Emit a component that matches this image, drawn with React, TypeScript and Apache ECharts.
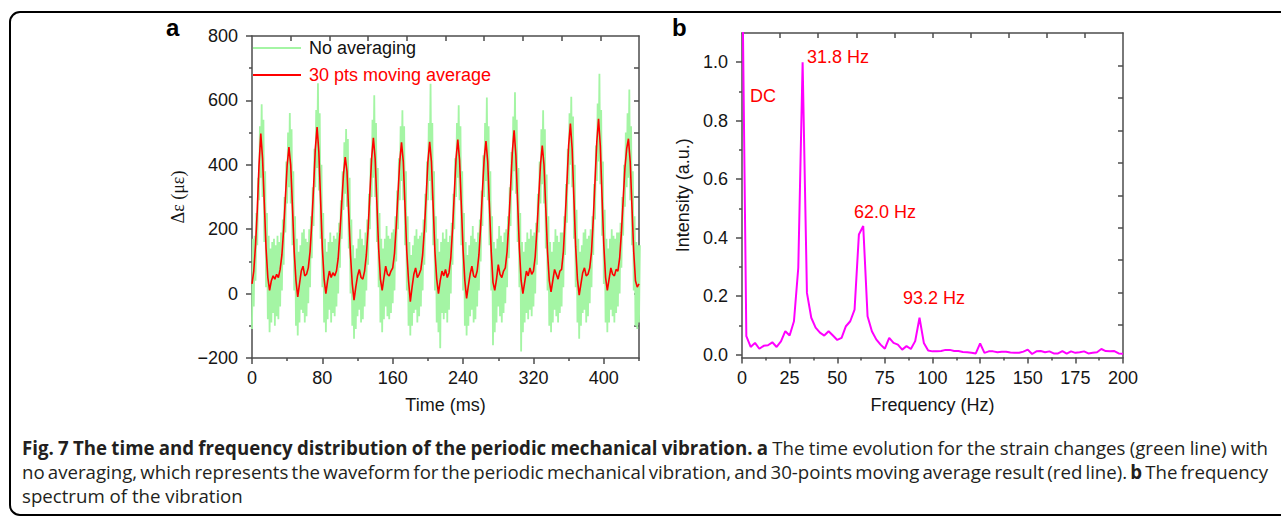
import React, { useEffect, useRef } from 'react';
import * as echarts from 'echarts';

// ---------- Panel a: strain vs time (2 ms grid, 0..440 ms) ----------
const TIME_STEP_MS = 2;
const RED_AVG = [
  30, 70, 150, 260, 400, 497, 420, 280, 140, 50, 10, 40, 55, 45, 60, 50, 75,
  120, 200, 300, 400, 455, 400, 270, 130, 40, -10, 30, 70, 85, 55, 60, 80,
  130, 220, 330, 450, 517, 440, 290, 140, 45, 0, 40, 70, 50, 65, 55, 70,
  110, 190, 280, 370, 424, 380, 250, 120, 30, -20, 20, 55, 75, 50, 45, 70,
  120, 200, 310, 420, 484, 420, 280, 140, 45, 10, 50, 85, 60, 55, 70, 80,
  125, 210, 310, 410, 470, 410, 270, 130, 40, -25, 20, 60, 80, 50, 60, 75,
  120, 200, 300, 410, 471, 410, 270, 130, 45, 0, 40, 70, 55, 75, 50, 65,
  110, 200, 310, 420, 478, 415, 275, 135, 40, -15, 25, 60, 85, 55, 50, 70,
  120, 210, 320, 420, 474, 410, 270, 130, 35, 10, 45, 90, 60, 50, 70, 80,
  130, 220, 330, 440, 507, 430, 285, 140, 40, 0, 35, 70, 55, 80, 60, 70,
  115, 200, 300, 400, 460, 400, 265, 130, 40, 5, 40, 75, 60, 45, 70, 75,
  130, 230, 340, 460, 528, 450, 295, 145, 45, -5, 30, 65, 80, 55, 60, 80,
  130, 230, 350, 470, 543, 460, 300, 150, 50, 10, 45, 80, 60, 55, 75, 70, 110,
  190, 290, 390, 450, 481, 410, 270, 130, 40, 20, 30,
];
const GREEN_HI = [
  170, 180, 250, 360, 520, 588, 540, 380, 250, 180, 140, 160, 170, 150, 180, 160, 190,
  230, 300, 410, 500, 561, 510, 380, 240, 170, 130, 150, 190, 200, 170, 160, 200,
  240, 330, 450, 570, 653, 560, 400, 250, 170, 130, 160, 190, 160, 180, 170, 190,
  220, 290, 380, 470, 511, 480, 360, 230, 150, 110, 140, 170, 200, 170, 150, 190,
  230, 310, 420, 540, 616, 530, 390, 250, 170, 140, 170, 210, 180, 170, 190, 200,
  240, 320, 420, 520, 569, 520, 380, 240, 160, 120, 150, 180, 200, 170, 180, 190,
  230, 310, 410, 530, 652, 530, 380, 240, 170, 130, 160, 190, 170, 200, 160, 180,
  220, 310, 420, 530, 585, 520, 380, 250, 160, 120, 150, 180, 210, 170, 160, 190,
  230, 320, 430, 530, 609, 520, 380, 240, 160, 140, 170, 210, 180, 160, 190, 200,
  240, 330, 440, 550, 625, 540, 390, 250, 160, 130, 160, 190, 170, 200, 180, 190,
  220, 310, 410, 510, 569, 510, 370, 240, 160, 130, 160, 200, 180, 160, 190, 190,
  240, 340, 450, 560, 611, 550, 400, 260, 170, 130, 150, 190, 200, 170, 180, 200,
  240, 340, 460, 590, 683, 570, 410, 260, 170, 140, 170, 200, 180, 170, 190, 190, 220,
  300, 400, 500, 560, 634, 520, 380, 240, 160, 150, 150,
];
const GREEN_LO = [
  -110, -40, 40, 150, 290, 360, 300, 160, 20, -80, -120, -90, -60, -100, -70, -80, -40,
  10, 90, 190, 280, 330, 280, 150, 10, -100, -130, -90, -50, -60, -90, -70, -30,
  20, 110, 210, 330, 390, 320, 170, 20, -90, -120, -80, -50, -90, -60, -70, -40,
  0, 80, 170, 260, 310, 270, 140, 0, -100, -140, -110, -70, -50, -90, -80, -40,
  10, 90, 200, 300, 360, 300, 160, 20, -90, -120, -80, -40, -70, -80, -60, -30,
  10, 100, 200, 290, 350, 290, 150, 10, -100, -130, -100, -60, -50, -90, -70, -40,
  10, 90, 190, 290, 350, 290, 150, 10, -90, -120, -170, -60, -80, -60, -90, -50,
  0, 90, 200, 300, 360, 290, 150, 10, -100, -130, -100, -70, -50, -90, -80, -40,
  10, 100, 210, 300, 350, 290, 150, 10, -160, -120, -90, -40, -70, -90, -60, -30,
  20, 110, 210, 320, 380, 310, 160, 20, -180, -120, -90, -60, -80, -50, -70, -40,
  0, 90, 190, 280, 340, 280, 140, 10, -100, -120, -90, -50, -70, -90, -60, -40,
  20, 120, 220, 340, 400, 330, 170, 20, -90, -140, -100, -60, -50, -90, -70, -30,
  20, 120, 230, 350, 410, 340, 180, 30, -90, -120, -90, -50, -70, -90, -60, -40, 0,
  80, 180, 270, 330, 360, 290, 150, 10, -100, -110, -90,
];
const TIME_TICKS = [0, 80, 160, 240, 320, 400];
const TIME_MINOR_TICKS = [40, 120, 200, 280, 360, 440];
const STRAIN_TICKS = [-200, 0, 200, 400, 600, 800];
const STRAIN_MINOR_TICKS = [-100, 100, 300, 500, 700];

// ---------- Panel b: spectrum (bin width 1/0.44 s) ----------
const FREQ_STEP_HZ = 1000 / 440;
const INTENSITY = [
  1.4, 0.063, 0.026, 0.04, 0.02, 0.03, 0.032, 0.042, 0.026, 0.045,
  0.08, 0.065, 0.114, 0.297, 1.0, 0.211, 0.126, 0.092, 0.075, 0.065,
  0.08, 0.065, 0.05, 0.057, 0.097, 0.114, 0.154, 0.411, 0.44, 0.131,
  0.08, 0.052, 0.034, 0.02, 0.057, 0.04, 0.034, 0.017, 0.029, 0.019,
  0.046, 0.126, 0.04, 0.014, 0.011, 0.011, 0.012, 0.016, 0.016, 0.012,
  0.012, 0.009, 0.008, 0.006, 0.004, 0.038, 0.006, 0.011, 0.011, 0.008,
  0.01, 0.01, 0.007, 0.006, 0.006, 0.01, 0.017, 0.002, 0.011, 0.012,
  0.008, 0.011, 0.004, 0.004, 0.012, 0.003, 0.011, 0.006, 0.008, 0.011,
  0.004, 0.006, 0.008, 0.019, 0.012, 0.011, 0.012, 0.004, 0.003,
];
const FREQ_TICKS = [0, 25, 50, 75, 100, 125, 150, 175, 200];
const FREQ_MINOR_TICKS = [12.5, 37.5, 62.5, 87.5, 112.5, 137.5, 162.5, 187.5];
const INTENSITY_TICKS = [0, 0.2, 0.4, 0.6, 0.8, 1.0];
const INTENSITY_MINOR_TICKS = [0.1, 0.3, 0.5, 0.7, 0.9];
const FRAME_DIVISIONS = [1, 2, 3, 4, 5, 6, 7, 8, 9];

const PEAK_LABELS = [
  { text: 'DC', x: 750, y: 96 },
  { text: '31.8 Hz', x: 807, y: 57 },
  { text: '62.0 Hz', x: 854, y: 212 },
  { text: '93.2 Hz', x: 903, y: 298 },
];

const CAPTION_LINES = [
  [
    { t: 'Fig. 7 The time and frequency distribution of the periodic mechanical vibration. a', b: true },
    { t: 'The time evolution for the strain changes (green line) with', b: false },
  ],
  [
    { t: 'no averaging, which represents the waveform for the periodic mechanical vibration, and 30-points moving average result (red line).', b: false },
    { t: 'b', b: true },
    { t: 'The frequency', b: false },
  ],
  [{ t: 'spectrum of the vibration', b: false }],
];

const FONT = '"Liberation Sans", Arial, Helvetica, sans-serif';
const CAP_FONT = '"Open Sans", "Noto Sans", sans-serif';
const AX = '#4d4d4d';
const LABEL = '#151515';

function fmtMinus(v: number) {
  return v < 0 ? '\u2212' + Math.abs(v) : String(v);
}

function captionGraphics() {
  const ctx = document.createElement('canvas').getContext('2d')!;
  const measure = (s: string, bold: boolean, fs: number) => {
    ctx.font = `${bold ? 'bold ' : ''}${fs}px ${CAP_FONT}`;
    return ctx.measureText(s).width;
  };
  const fs = (221 / measure('spectrum of the vibration', false, 100)) * 100;
  const left = 22;
  const right = 1268;
  const ys = [447, 471, 495];
  const els: any[] = [];
  CAPTION_LINES.forEach((line, li) => {
    const words: { w: string; b: boolean }[] = [];
    line.forEach((seg) => seg.t.split(' ').forEach((w) => words.push({ w, b: seg.b })));
    const widths = words.map((wd) => measure(wd.w, wd.b, fs));
    const sum = widths.reduce((a, c) => a + c, 0);
    const justify = li < 2;
    const gap = justify ? (right - left - sum) / (words.length - 1) : measure(' ', false, fs);
    let x = left;
    words.forEach((wd, i) => {
      els.push({
        type: 'text',
        x,
        y: ys[li],
        silent: true,
        style: {
          text: wd.w,
          fontSize: fs,
          fontFamily: CAP_FONT,
          fontWeight: wd.b ? 'bold' : 'normal',
          fill: '#231f20',
          verticalAlign: 'middle',
          align: 'left',
        },
      });
      x += widths[i] + gap;
    });
  });
  return els;
}

function bottomMain(grid: number, max: number, ticks: number[], name: string) {
  return {
    type: 'value', gridIndex: grid, position: 'bottom', min: 0, max,
    axisLine: { show: true, onZero: false, lineStyle: { color: AX, width: 1.5 } },
    axisTick: { show: true, inside: false, length: 6, customValues: ticks, lineStyle: { color: AX, width: 1.5 } },
    axisLabel: { show: true, customValues: ticks, margin: 11, fontSize: 18, color: LABEL, fontFamily: FONT },
    splitLine: { show: false },
    name, nameLocation: 'middle', nameGap: 38,
    nameTextStyle: { fontSize: 18, color: LABEL, fontFamily: FONT },
  };
}
function bottomMinor(grid: number, max: number, ticks: number[]) {
  return {
    type: 'value', gridIndex: grid, position: 'bottom', min: 0, max,
    axisLine: { show: false, onZero: false },
    axisTick: { show: true, inside: false, length: 3, customValues: ticks, lineStyle: { color: AX, width: 1.5 } },
    axisLabel: { show: false }, splitLine: { show: false },
  };
}
function frameAxis(grid: number, position: string) {
  return {
    type: 'value', gridIndex: grid, position, min: 0, max: 10,
    axisLine: { show: true, onZero: false, lineStyle: { color: AX, width: 1.5 } },
    axisTick: { show: true, inside: true, length: 5, customValues: FRAME_DIVISIONS, lineStyle: { color: AX, width: 1.5 } },
    axisLabel: { show: false }, splitLine: { show: false },
  };
}
function leftMain(grid: number, min: number, max: number, ticks: number[], name: string, gap: number, fmt: (v: number) => string, nameFont: string) {
  return {
    type: 'value', gridIndex: grid, position: 'left', min, max,
    axisLine: { show: true, onZero: false, lineStyle: { color: AX, width: 1.5 } },
    axisTick: { show: true, inside: false, length: 6, customValues: ticks, lineStyle: { color: AX, width: 1.5 } },
    axisLabel: { show: true, customValues: ticks, margin: 14, fontSize: 18, color: LABEL, fontFamily: FONT, formatter: fmt },
    splitLine: { show: false },
    name, nameLocation: 'middle', nameGap: gap, nameRotate: 90,
    nameTextStyle: { fontSize: 18, color: LABEL, fontFamily: nameFont },
  };
}
function leftMinor(grid: number, min: number, max: number, ticks: number[]) {
  return {
    type: 'value', gridIndex: grid, position: 'left', min, max,
    axisLine: { show: false, onZero: false },
    axisTick: { show: true, inside: false, length: 3, customValues: ticks, lineStyle: { color: AX, width: 1.5 } },
    axisLabel: { show: false }, splitLine: { show: false },
  };
}

function buildOption() {
  const greenData: number[][] = [];
  GREEN_LO.forEach((lo, i) => {
    const t = i * TIME_STEP_MS;
    greenData.push([t, lo]);
    greenData.push([t + 1, GREEN_HI[i]]);
  });
  const redData = RED_AVG.map((v, i) => [i * TIME_STEP_MS, v]);
  const specData = INTENSITY.map((v, k) => [k * FREQ_STEP_HZ, v]);

  const graphic: any[] = [
    {
      type: 'rect', silent: true,
      shape: { x: 10, y: 12, width: 1300, height: 503, r: 10 },
      style: { fill: 'none', stroke: '#000', lineWidth: 2 },
    },
    { type: 'text', x: 166, y: 27, silent: true, style: { text: 'a', fontSize: 24, fontWeight: 'bold', fontFamily: FONT, fill: '#000', verticalAlign: 'middle' } },
    { type: 'text', x: 672, y: 27, silent: true, style: { text: 'b', fontSize: 24, fontWeight: 'bold', fontFamily: FONT, fill: '#000', verticalAlign: 'middle' } },
    ...PEAK_LABELS.map((p) => ({
      type: 'text', x: p.x, y: p.y, silent: true,
      style: { text: p.text, fontSize: 18, fontFamily: FONT, fill: '#ff0000', verticalAlign: 'middle', align: 'left' },
    })),
    ...captionGraphics(),
  ];

  return {
    animation: false,
    backgroundColor: '#ffffff',
    textStyle: { fontFamily: FONT },
    grid: [
      { left: 252, top: 36, width: 387, height: 322, containLabel: false },
      { left: 742, top: 33, width: 381, height: 324.5, containLabel: false },
    ],
    legend: {
      show: true, left: 253, top: 39, orient: 'vertical', padding: 0,
      itemWidth: 48, itemHeight: 2, itemGap: 9, icon: 'rect',
      textStyle: { fontSize: 18, fontFamily: FONT, lineHeight: 18, padding: [0, 0, 0, 3] },
      data: [
        { name: 'No averaging', textStyle: { color: '#111' } },
        { name: '30 pts moving average', textStyle: { color: '#ff0000' } },
      ],
    },
    xAxis: [
      bottomMain(0, 440, TIME_TICKS, 'Time (ms)'),
      bottomMinor(0, 440, TIME_MINOR_TICKS),
      frameAxis(0, 'top'),
      bottomMain(1, 200, FREQ_TICKS, 'Frequency (Hz)'),
      bottomMinor(1, 200, FREQ_MINOR_TICKS),
      frameAxis(1, 'top'),
    ],
    yAxis: [
      leftMain(0, -200, 800, STRAIN_TICKS, 'Δε (με)', 65, fmtMinus, '"Liberation Serif", "DejaVu Serif", serif'),
      leftMinor(0, -200, 800, STRAIN_MINOR_TICKS),
      frameAxis(0, 'right'),
      leftMain(1, -0.01, 1.1, INTENSITY_TICKS, 'Intensity (a.u.)', 50, (v: number) => v.toFixed(1), FONT),
      leftMinor(1, -0.01, 1.1, INTENSITY_MINOR_TICKS),
      frameAxis(1, 'right'),
    ],
    series: [
      {
        name: 'No averaging', type: 'line', xAxisIndex: 0, yAxisIndex: 0,
        data: greenData, showSymbol: false, symbol: 'none', color: '#a4f5a4',
        lineStyle: { color: '#a4f5a4', width: 1.8 }, clip: true, z: 2,
      },
      {
        name: '30 pts moving average', type: 'line', xAxisIndex: 0, yAxisIndex: 0,
        data: redData, showSymbol: false, symbol: 'none', color: '#ff0000',
        lineStyle: { color: '#ff0000', width: 1.6 }, clip: true, z: 3,
      },
      {
        name: 'Spectrum', type: 'line', xAxisIndex: 3, yAxisIndex: 3,
        data: specData, showSymbol: false, symbol: 'none', color: '#ff00ff',
        lineStyle: { color: '#ff00ff', width: 2 }, clip: true, z: 3,
      },
    ],
    graphic,
  };
}

export default function App() {
  const ref = useRef<HTMLDivElement>(null);
  useEffect(() => {
    const el = ref.current;
    if (!el) return;
    const chart = echarts.init(el, null, { renderer: 'svg' });
    chart.setOption(buildOption() as any);
    return () => chart.dispose();
  }, []);
  return (
    <div
      ref={ref}
      style={{ position: 'fixed', left: 0, top: 0, width: 1281, height: 517, background: '#fff' }}
    />
  );
}
